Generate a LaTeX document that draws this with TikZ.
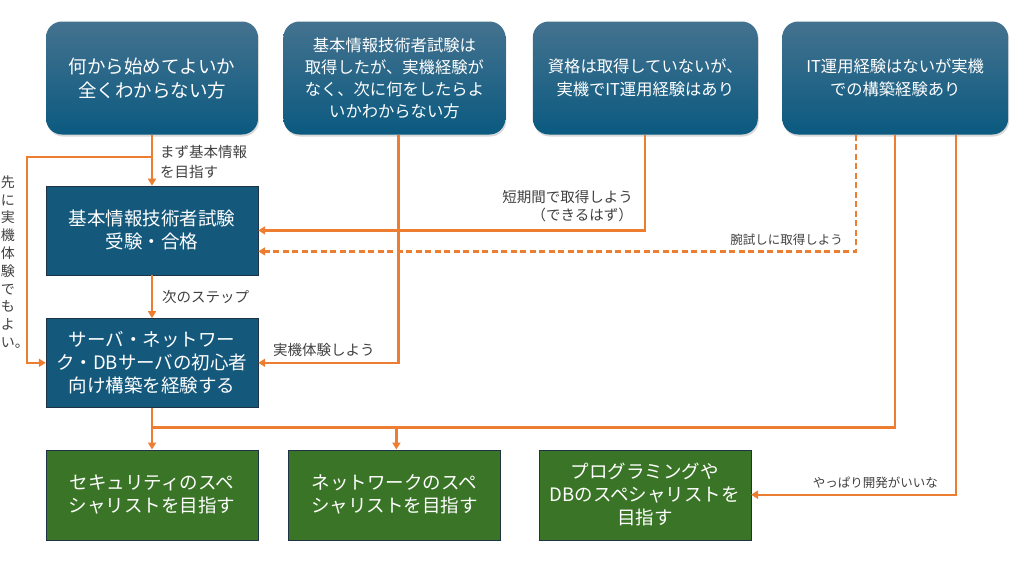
\documentclass[tikz,border=0pt]{standalone}
\usepackage{fontspec}
\setmainfont{Noto Sans CJK JP}
\usetikzlibrary{arrows.meta,positioning,shadows}
\definecolor{navytop}{HTML}{44728F}
\definecolor{navybot}{HTML}{0B5A80}
\definecolor{navy}{HTML}{14597C}
\definecolor{leaf}{HTML}{3A7527}
\definecolor{rim}{HTML}{1E3345}
\definecolor{flow}{HTML}{ED7D31}
\definecolor{note}{HTML}{404040}

\begin{document}
\begin{tikzpicture}[x=1pt, y=-1pt,
  who/.style={rounded corners=16pt, top color=navytop, bottom color=navybot, text=white, align=center,
    minimum width=212pt, minimum height=113pt, inner sep=2pt,
    drop shadow={opacity=0.3, shadow xshift=1pt, shadow yshift=-2pt}},
  stepbox/.style={draw=rim, fill=navy, text=white, align=center, minimum width=212pt, minimum height=89pt,
    font=\fontsize{18.5}{23}\selectfont},
  goal/.style={draw=rim, fill=leaf, text=white, align=center, minimum width=212pt, minimum height=90pt,
    font=\fontsize{18.5}{23}\selectfont},
  arrow/.style={flow, line width=2.2pt, -{Triangle[length=7pt,width=8pt]}},
  wire/.style={flow, line width=2.2pt},
  say/.style={text=note, inner sep=0pt, font=\fontsize{14.5}{20}\selectfont}
]
\useasboundingbox (0,0) rectangle (1024,576);

\node[who, font=\fontsize{18.5}{24}\selectfont] (p1) at (152,78) {何から始めてよいか\\全くわからない方};
\node[who, minimum width=222pt, right=25pt of p1, font=\fontsize{16.3}{22}\selectfont] (p2) {基本情報技術者試験は\\取得したが、実機経験が\\なく、次に何をしたらよ\\いかわからない方};
\node[who, minimum width=225pt, right=27pt of p2, font=\fontsize{16.3}{23}\selectfont] (p3) {資格は取得していないが、\\実機でIT運用経験はあり};
\node[who, minimum width=226pt, right=24pt of p3, font=\fontsize{16.3}{23}\selectfont] (p4) {IT運用経験はないが実機\\での構築経験あり};

\node[stepbox, below=51pt of p1] (exam) {基本情報技術者試験\\受験・合格};
\node[stepbox, below=43pt of exam] (build) {サーバ・ネットワー\\ク・DBサーバの初心者\\向け構築を経験する};

\node[goal, below=42pt of build] (sec) {セキュリティのスペ\\シャリストを目指す};
\node[goal, right=30pt of sec] (net) {ネットワークのスペ\\シャリストを目指す};
\node[goal, right=38pt of net] (dev) {プログラミングや\\DBのスペシャリストを\\目指す};

\coordinate (fork) at ([yshift=-22pt]p1.south);
\coordinate (join) at ([yshift=-20pt]build.south);

\draw[arrow] (p1.south) -- (exam.north);
\draw[arrow] (fork) -| ([xshift=-19pt]exam.west) |- (build.west);
\draw[arrow] (exam.south) -- (build.north);
\draw[arrow] ([xshift=4pt]p2.south) |- (build.east);
\draw[arrow] (p3.south) |- (exam.east);
\draw[arrow, dash pattern=on 6pt off 3.5pt] ([xshift=-39pt]p4.south) |- ([yshift=-21pt]exam.east);
\draw[wire] (p4.south) |- (join);
\draw[arrow] (build.south) -- (sec.north);
\draw[arrow] ([xshift=2pt]join -| net.north) -- ([xshift=2pt]net.north);
\draw[arrow] ([xshift=61pt]p4.south) |- (dev.east);

\node[say, anchor=west, align=left] (l1) at (160,162) {まず基本情報\\を目指す};
\node[say, align=left, font=\fontsize{14}{17.8}\selectfont] (l2) at (15,262) {先\\に\\実\\機\\体\\験\\で\\も\\よ\\い。};
\node[say, anchor=west] (l3) at (162,297) {次のステップ};
\node[say, anchor=west] (l4) at (273,350) {実機体験しよう};
\node[say, anchor=east, align=right, font=\fontsize{14.5}{18}\selectfont] (l5) at (633,206) {短期間で取得しよう\\（できるはず）};
\node[say, anchor=east, font=\fontsize{12.5}{15}\selectfont] (l6) at (843,240) {腕試しに取得しよう};
\node[say, anchor=east, font=\fontsize{12.5}{15}\selectfont] (l7) at (938,483) {やっぱり開発がいいな};
\end{tikzpicture}
\end{document}
